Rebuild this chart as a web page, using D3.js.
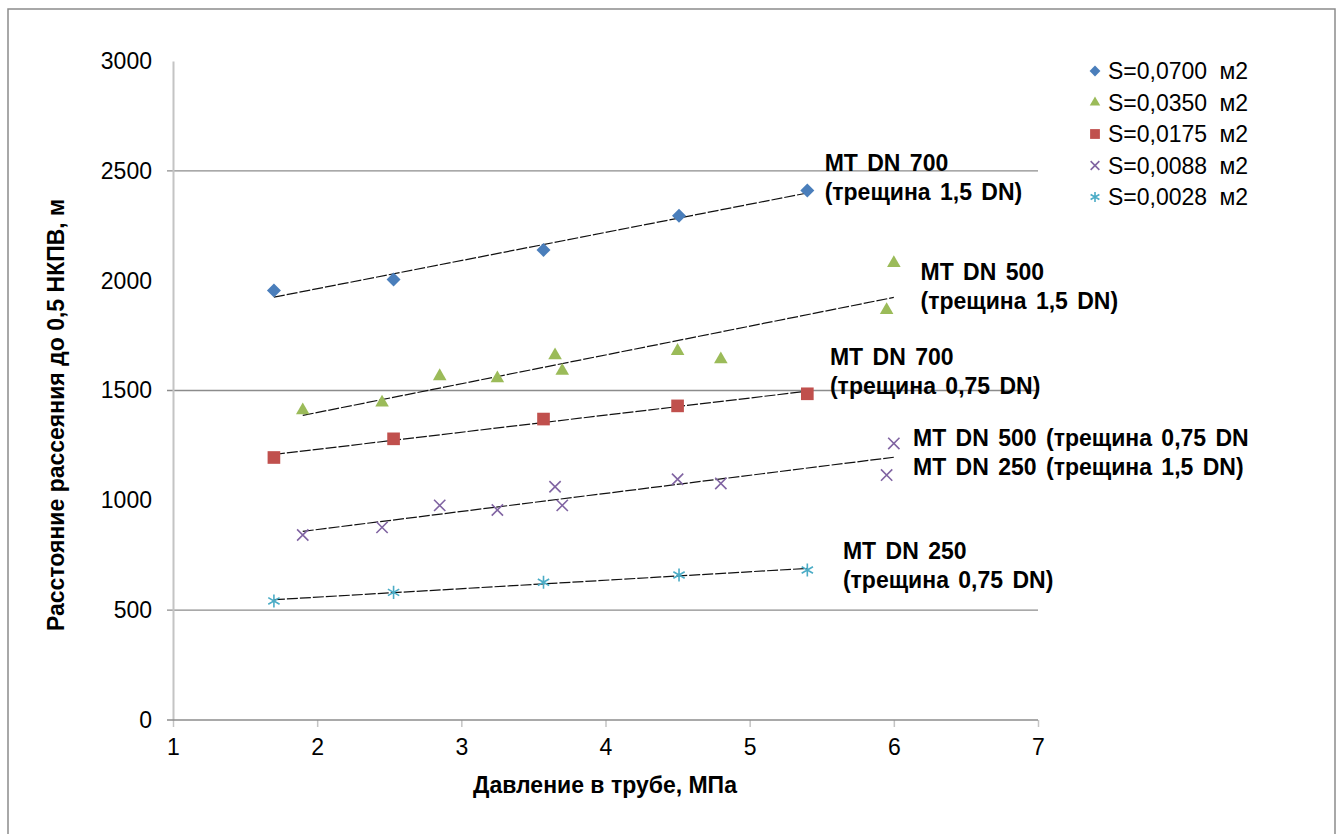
<!DOCTYPE html>
<html>
<head>
<meta charset="utf-8">
<script src="https://cdn.jsdelivr.net/npm/d3@7"></script>
<style>
  body { margin: 0; background: #fff; }
  svg text { font-family: "Liberation Sans", Arial, sans-serif; fill: #000; }
</style>
</head>
<body>
<svg id="chart" width="1343" height="834"></svg>
<script>
const seriesNames = ["S=0,0700 м2", "S=0,0350 м2", "S=0,0175 м2", "S=0,0088 м2", "S=0,0028 м2"];

const xS0700 = [1.7, 2.53, 3.57, 4.51, 5.4];
const yS0700 = [1955, 2005, 2140, 2295, 2410];

const xS0350 = [1.9, 2.45, 2.85, 3.25, 3.65, 3.7, 4.5, 4.8, 5.95, 6.0];
const yS0350 = [1410, 1445, 1565, 1555, 1660, 1590, 1680, 1642, 1866, 2080];

const xS0175 = [1.7, 2.53, 3.57, 4.5, 5.4];
const yS0175 = [1195, 1280, 1370, 1430, 1485];

const xS0088 = [1.9, 2.45, 2.85, 3.25, 3.65, 3.7, 4.5, 4.8, 5.95, 6.0];
const yS0088 = [842, 877, 977, 956, 1062, 977, 1096, 1077, 1115, 1259];

const xS0028 = [1.7, 2.53, 3.57, 4.51, 5.4];
const yS0028 = [542, 581, 627, 660, 683];

const xTicks = [1, 2, 3, 4, 5, 6, 7];
const yTicks = [0, 500, 1000, 1500, 2000, 2500, 3000];
const yGridValues = [500, 1500, 2500];

// annotation texts, anchored in data units (left edge, centre of first line)
const noteLines = [
  ["MT DN 700", "(трещина 1,5 DN)"],
  ["MT DN 500", "(трещина 1,5 DN)"],
  ["MT DN 700", "(трещина 0,75 DN)"],
  ["MT DN 500 (трещина 0,75 DN", "MT DN 250 (трещина 1,5 DN)"],
  ["MT DN 250", "(трещина 0,75 DN)"]
];
const noteX = [5.52, 6.185, 5.557, 6.133, 5.647];
const noteY = [2536, 2039, 1654, 1284, 771];

const COLORS = ["#4A7EBB", "#9BBB59", "#C0504D", "#8064A2", "#4BACC6"];
const FONT_SIZE = 23;

const svg = d3.select("#chart");

// outer frame
svg.append("path")
  .attr("d", "M8,840 V9 H1335 V840")
  .attr("fill", "none")
  .attr("stroke", "#8c8c8c")
  .attr("stroke-width", 1.5);

const x = d3.scaleLinear().domain([1, 7]).range([173, 1038]);
const y = d3.scaleLinear().domain([0, 3000]).range([720, 61]);

// gridlines (only every other one shows in the original)
svg.selectAll(".grid")
  .data(yGridValues)
  .enter()
  .append("line")
  .attr("x1", 167)
  .attr("x2", x(7))
  .attr("y1", (d) => y(d))
  .attr("y2", (d) => y(d))
  .attr("stroke", "#8c8c8c")
  .attr("stroke-width", 1.3);

// y axis
const yAxis = svg.append("g")
  .attr("transform", `translate(${x(1)},0)`)
  .call(d3.axisLeft(y).tickValues(yTicks).tickFormat(d3.format("d")).tickSize(0).tickPadding(21));
yAxis.select(".domain").attr("stroke", "#c4c4c4").attr("stroke-width", 2);
yAxis.selectAll("text").attr("font-size", FONT_SIZE).attr("font-family", null);

// x axis
const xAxis = svg.append("g")
  .attr("transform", `translate(0,${y(0)})`)
  .call(d3.axisBottom(x).tickValues(xTicks).tickFormat(d3.format("d")).tickSize(7).tickPadding(12).tickSizeOuter(0));
xAxis.select(".domain").remove();
xAxis.selectAll(".tick line").attr("stroke", "#c4c4c4").attr("stroke-width", 1.5);
xAxis.selectAll("text").attr("font-size", FONT_SIZE).attr("font-family", null);

svg.append("line")
  .attr("x1", 167)
  .attr("x2", x(7))
  .attr("y1", y(0))
  .attr("y2", y(0))
  .attr("stroke", "#8c8c8c")
  .attr("stroke-width", 1.3);

// axis titles
svg.append("text")
  .attr("x", 605)
  .attr("y", 785)
  .attr("text-anchor", "middle")
  .attr("dominant-baseline", "central")
  .attr("font-size", FONT_SIZE)
  .attr("font-weight", "bold")
  .text("Давление в трубе, МПа");

svg.append("text")
  .attr("transform", "translate(56,415) rotate(-90)")
  .attr("text-anchor", "middle")
  .attr("dominant-baseline", "central")
  .attr("font-size", FONT_SIZE)
  .attr("font-weight", "bold")
  .text("Расстояние рассеяния до 0,5 НКПВ, м");

const series = [
  { xs: xS0700, ys: yS0700, symbol: d3.symbolDiamond2, size: 125, filled: true },
  { xs: xS0350, ys: yS0350, symbol: d3.symbolTriangle, size: 80, filled: true },
  { xs: xS0175, ys: yS0175, symbol: d3.symbolSquare, size: 160, filled: true },
  { xs: xS0088, ys: yS0088, symbol: d3.symbolTimes, size: 85, filled: false },
  { xs: xS0028, ys: yS0028, symbol: d3.symbolAsterisk, size: 120, filled: false }
];

// linear trend lines
const fit = (xs, ys) => {
  const mx = d3.mean(xs);
  const my = d3.mean(ys);
  let sxy = 0;
  let sxx = 0;
  xs.forEach((v, i) => {
    sxy += (v - mx) * (ys[i] - my);
    sxx += (v - mx) * (v - mx);
  });
  const slope = sxy / sxx;
  return (v) => my + slope * (v - mx);
};

const trendLine = d3.line().x((d) => x(d[0])).y((d) => y(d[1]));

series.forEach((s) => {
  const f = fit(s.xs, s.ys);
  const x0 = d3.min(s.xs);
  const x1 = d3.max(s.xs);
  svg.append("path")
    .attr("d", trendLine([[x0, f(x0)], [x1, f(x1)]]))
    .attr("fill", "none")
    .attr("stroke", "#111")
    .attr("stroke-width", 1.2)
    .attr("stroke-dasharray", "11,2");
});

// markers
const markerAttrs = (sel, s, color) => {
  if (s.filled) {
    sel.attr("fill", color).attr("stroke", "none");
  } else {
    sel.attr("fill", "none").attr("stroke", color).attr("stroke-width", 1.6);
  }
};

series.forEach((s, k) => {
  const pts = s.xs.map((v, i) => [v, s.ys[i]]);
  svg.append("g")
    .selectAll("path")
    .data(pts)
    .enter()
    .append("path")
    .attr("d", d3.symbol().type(s.symbol).size(s.size))
    .attr("transform", (d) => `translate(${x(d[0])},${y(d[1])})`)
    .call(markerAttrs, s, COLORS[k]);
});

// annotations
noteLines.forEach((lines, i) => {
  const t = svg.append("text")
    .attr("font-size", FONT_SIZE)
    .attr("font-weight", "bold")
    .attr("dominant-baseline", "central");
  lines.forEach((line, j) => {
    t.append("tspan")
      .attr("x", x(noteX[i]))
      .attr("y", y(noteY[i]) + j * 29)
      .attr("word-spacing", 3)
      .text(line);
  });
});

// legend
const legend = svg.append("g").attr("transform", "translate(1095,71)");
seriesNames.forEach((name, i) => {
  const row = legend.append("g").attr("transform", `translate(0,${i * 31.5})`);
  row.append("path")
    .attr("d", d3.symbol().type(series[i].symbol).size(series[i].size * 0.6))
    .call(markerAttrs, series[i], COLORS[i]);
  row.append("text")
    .attr("x", 13)
    .attr("dominant-baseline", "central")
    .attr("font-size", FONT_SIZE)
    .attr("word-spacing", 6)
    .text(name);
});
</script>
</body>
</html>
